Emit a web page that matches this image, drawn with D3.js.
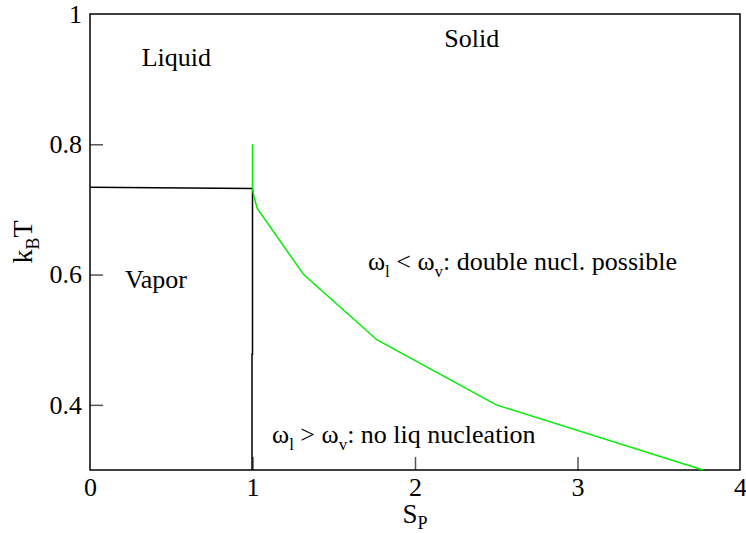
<!DOCTYPE html>
<html><head><meta charset="utf-8">
<script src="https://cdn.jsdelivr.net/npm/d3@7"></script>
</head><body style="margin:0">
<svg id="c" width="746" height="533" font-family="'Liberation Serif', Tinos, 'Times New Roman', serif"></svg>
<script>
// Data
const vaporLiquidBoundary = [[0,0.734],[1.0,0.732],[1.0,0.478],[0.997,0.478],[0.997,0.3]];
const solidBoundary = [[1.0,0.8],[1.0,0.732],[1.01,0.718],[1.03,0.701],[1.315,0.6],[1.765,0.5],[2.5,0.4],[3.773,0.3]];
const xTicks = [0,1,2,3,4];
const yTicks = [0.4,0.6,0.8,1];
const regionLabels = [
  {text:"Liquid", x:0.318, y:0.9205},
  {text:"Solid", x:2.18, y:0.9495},
  {text:"Vapor", x:0.215, y:0.579}
];

const FONT="'Liberation Serif', Tinos, 'Times New Roman', serif";
const W=746,H=533, m={l:90,r:6,t:14,b:63};
const svg=d3.select("#c").style("display","block");
const x=d3.scaleLinear().domain([0,4]).range([m.l,W-m.r]);
const y=d3.scaleLinear().domain([0.3,1]).range([H-m.b,m.t]);
function serif(s){return s.attr("font-family",FONT);}

const fs=26;
// axes
const xa=svg.append("g").attr("transform",`translate(0,${y(0.3)})`)
  .call(d3.axisBottom(x).tickValues(xTicks).tickSize(-13).tickPadding(8).tickFormat(d3.format("d")));
const ya=svg.append("g").attr("transform",`translate(${x(0)},0)`)
  .call(d3.axisLeft(y).tickValues(yTicks).tickSize(-13).tickPadding(8).tickFormat(d=>d===1?"1":d3.format(".1f")(d)));
[xa,ya].forEach(a=>{serif(a).attr("font-size",fs);a.select(".domain").remove();
  a.selectAll("line").attr("stroke","#555").attr("stroke-width",1.5);
  serif(a.selectAll("text")).attr("font-size",fs).attr("fill","#000");});
xa.selectAll(".tick").filter(d=>d===0||d===4).select("line").remove();
ya.selectAll(".tick").filter(d=>d===1).select("line").remove();

// frame
svg.append("rect").attr("x",x(0)).attr("y",y(1)).attr("width",x(4)-x(0)).attr("height",y(0.3)-y(1))
  .attr("fill","none").attr("stroke","#000").attr("stroke-width",1.5);

const line=d3.line().x(d=>x(d[0])).y(d=>y(d[1]));
svg.append("path").attr("d",line(vaporLiquidBoundary)).attr("fill","none").attr("stroke","#000").attr("stroke-width",1.5);
svg.append("path").attr("d",line(solidBoundary)).attr("fill","none").attr("stroke","#00ee00").attr("stroke-width",1.5);

regionLabels.forEach(r=>serif(svg.append("text")).attr("x",x(r.x)).attr("y",y(r.y)).attr("font-size",fs).text(r.text));

function omegaText(px,py,rel,rest){
  const t=serif(svg.append("text")).attr("x",px).attr("y",py).attr("font-size",fs);
  t.append("tspan").text("ω");
  t.append("tspan").attr("font-size",17).attr("dy",7).text("l");
  t.append("tspan").attr("dy",-7).text(" "+rel+" ω");
  t.append("tspan").attr("font-size",17).attr("dy",7).text("v");
  t.append("tspan").attr("dy",-7).text(rest);
}
omegaText(x(1.71),y(0.6075),"<",": double nucl. possible");
omegaText(x(1.12),y(0.3415),">",": no liq nucleation");

// axis titles
const xt=serif(svg.append("text")).attr("x",x(2)).attr("y",523).attr("text-anchor","middle").attr("font-size",27);
xt.append("tspan").text("S");
xt.append("tspan").attr("font-size",18).attr("dy",6).text("P");
const yt=serif(svg.append("text")).attr("transform",`translate(32,${y(0.65)}) rotate(-90)`).attr("text-anchor","middle").attr("font-size",28);
yt.append("tspan").text("k");
yt.append("tspan").attr("font-size",18).attr("dy",7).text("B");
yt.append("tspan").attr("dy",-7).text("T");
</script>
</body></html>
